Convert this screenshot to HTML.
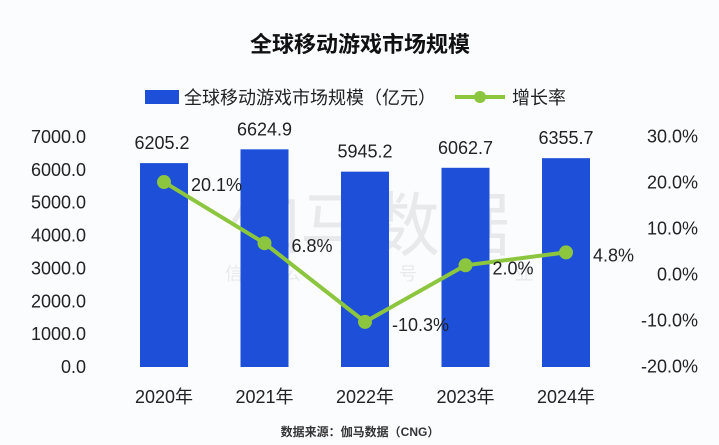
<!DOCTYPE html>
<html><head><meta charset="utf-8"><style>
html,body{margin:0;padding:0;background:#fbfcfe;}
svg{display:block;font-family:"Liberation Sans","Noto Sans CJK SC",sans-serif;}
</style></head><body>
<svg width="719" height="445" viewBox="0 0 719 445">
<rect width="719" height="445" fill="#fbfcfe"/>
<text x="360" y="52" text-anchor="middle" font-size="22" font-weight="bold" fill="#111">全球移动游戏市场规模</text>
<g>
<rect x="145" y="90" width="34" height="14" fill="#1d4fd8"/>
<text x="184" y="104" font-size="18" fill="#222">全球移动游戏市场规模（亿元）</text>
<line x1="455" y1="97" x2="505" y2="97" stroke="#8cc63f" stroke-width="4"/>
<circle cx="480" cy="97" r="6" fill="#8cc63f"/>
<text x="512" y="104" font-size="18" fill="#222">增长率</text>
</g>
<g opacity="0.12"><text x="370" y="250" text-anchor="middle" font-size="70" fill="#666">伽马数据</text><text x="370" y="280" text-anchor="middle" font-size="18" fill="#666" letter-spacing="40">微信公众号产业</text></g>
<g id="g"></g>
<text x="360" y="436" text-anchor="middle" font-size="12" font-weight="bold" fill="#333">数据来源：伽马数据（CNG）</text>
</svg>
<script>
const categories=["2020年","2021年","2022年","2023年","2024年"];
const marketSize=[6205.2,6624.9,5945.2,6062.7,6355.7];
const growthRate=[20.1,6.8,-10.3,2.0,4.8];
const leftTicks=[0,1000,2000,3000,4000,5000,6000,7000];
const rightTicks=[-20,-10,0,10,20,30];
const NS="http://www.w3.org/2000/svg";
const g=document.getElementById('g');
const yL=v=>367-v*(230/7000);
const yR=v=>274.5-v*4.6;
const xC=i=>164+i*100.5;
function el(t,a,txt){const e=document.createElementNS(NS,t);for(const k in a)e.setAttribute(k,a[k]);if(txt!==undefined)e.textContent=txt;g.appendChild(e);return e;}
leftTicks.forEach(v=>{const e=el('text',{x:86,y:yL(v)+6,'text-anchor':'end','font-size':18,fill:'#222'},v.toFixed(1));

});
rightTicks.forEach(v=>{const e=el('text',{x:698,y:yR(v)+6,'text-anchor':'end','font-size':18,fill:'#222'},v.toFixed(1)+'%');

});
categories.forEach((c,i)=>{
const r=el('rect',{x:xC(i)-24,y:yL(marketSize[i]),width:48,height:yL(0)-yL(marketSize[i]),fill:'#1d4fd8'});


const t=el('text',{x:xC(i)+(i==0?-2:0),y:yL(marketSize[i])-14,'text-anchor':'middle','font-size':18,fill:'#222'},marketSize[i].toFixed(1));


const x=el('text',{x:xC(i),y:403,'text-anchor':'middle','font-size':18,fill:'#222'},c);


});
const pl=el('polyline',{points:growthRate.map((v,i)=>xC(i)+','+yR(v)).join(' '),fill:'none',stroke:'#8cc63f','stroke-width':4,'stroke-linejoin':'round'});


growthRate.forEach((v,i)=>{
const c=el('circle',{cx:xC(i),cy:yR(v),r:7,fill:'#8cc63f'});


const t=el('text',{x:xC(i)+27,y:yR(v)+9,'font-size':18,fill:'#222'},v.toFixed(1)+'%');


});
</script>
</body></html>
